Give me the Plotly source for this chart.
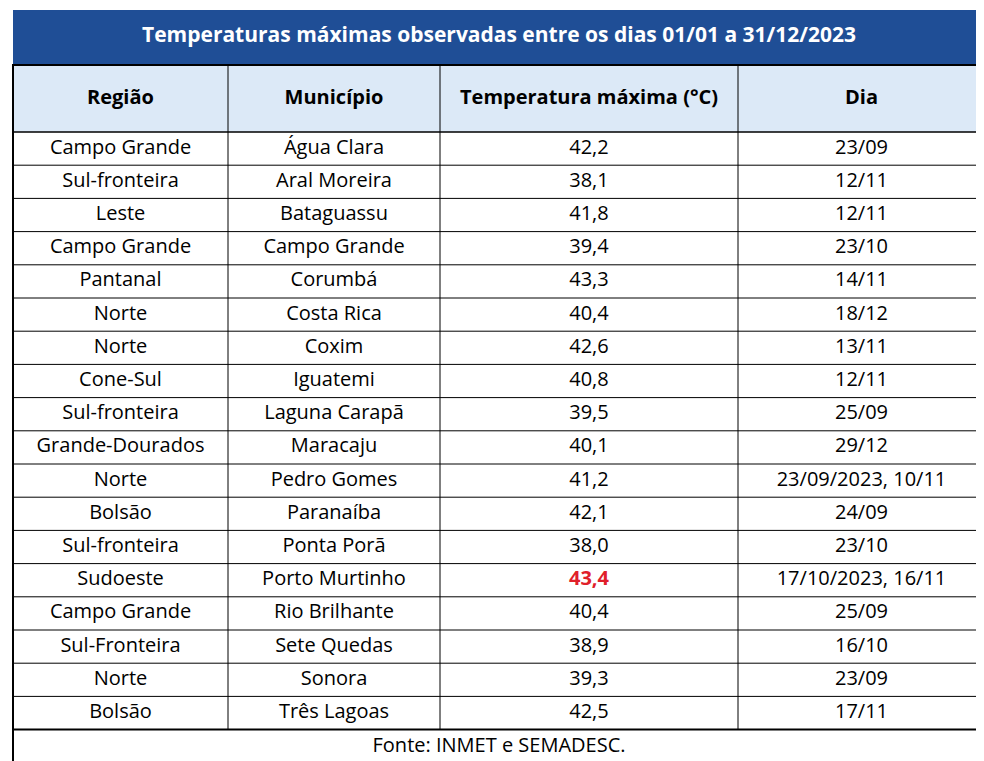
import plotly.graph_objects as go

regioes = ["Campo Grande","Sul-fronteira","Leste","Campo Grande","Pantanal","Norte","Norte","Cone-Sul",
           "Sul-fronteira","Grande-Dourados","Norte","Bolsão","Sul-fronteira","Sudoeste","Campo Grande",
           "Sul-Fronteira","Norte","Bolsão"]
municipios = ["Água Clara","Aral Moreira","Bataguassu","Campo Grande","Corumbá","Costa Rica","Coxim","Iguatemi",
              "Laguna Carapã","Maracaju","Pedro Gomes","Paranaíba","Ponta Porã","Porto Murtinho","Rio Brilhante",
              "Sete Quedas","Sonora","Três Lagoas"]
temps = [42.2,38.1,41.8,39.4,43.3,40.4,42.6,40.8,39.5,40.1,41.2,42.1,38.0,43.4,40.4,38.9,39.3,42.5]
dias = ["23/09","12/11","12/11","23/10","14/11","18/12","13/11","12/11","25/09","29/12","23/09/2023, 10/11",
        "24/09","23/10","17/10/2023, 16/11","25/09","16/10","23/09","17/11"]
headers = ["Região","Município","Temperatura máxima (°C)","Dia"]
title = "Temperaturas máximas observadas entre os dias 01/01 a 31/12/2023"
fonte = "Fonte: INMET e SEMADESC."

W, H = 984, 761
font = "Open Sans"
edges = [5, 220, 432, 730, 977]          # column boundaries (layout)
T0, T1 = 2, 56                           # title bar
H0, H1 = 57, 124                         # header row
RH = 33.2                                # data row height
n = len(temps)
D1 = H1 + RH * n
F1 = D1 + 34

tmax = max(temps)
temp_txt = [(f"<b>{t:.1f}</b>" if t == tmax else f"{t:.1f}").replace(".", ",") for t in temps]
temp_col = ["#e0202a" if t == tmax else "black" for t in temps]
centers = [(edges[i] + edges[i+1]) / 2 for i in range(4)]
row_y = [H1 + RH * (i + 0.5) for i in range(n)]

fig = go.Figure()
shapes = [
    dict(type="rect", x0=edges[0], x1=edges[-1], y0=T0, y1=T1, fillcolor="#1f4e96", line=dict(width=0), layer="below"),
    dict(type="rect", x0=edges[0], x1=edges[-1], y0=H0, y1=H1, fillcolor="#dce9f7", line=dict(color="black", width=1), layer="below"),
    dict(type="rect", x0=edges[0], x1=edges[-1], y0=H0, y1=F1, fillcolor="rgba(0,0,0,0)", line=dict(color="black", width=2)),
    dict(type="line", x0=edges[0], x1=edges[-1], y0=D1, y1=D1, line=dict(color="black", width=2)),
]
for e in edges[1:-1]:
    shapes.append(dict(type="line", x0=e, x1=e, y0=H0, y1=D1, line=dict(color="black", width=1)))
for i in range(n):
    y = H1 + RH * i
    shapes.append(dict(type="line", x0=edges[0], x1=edges[-1], y0=y, y1=y, line=dict(color="black", width=1)))

fig.add_trace(go.Scatter(x=centers, y=[(H0 + H1) / 2] * 4, mode="text",
                         text=[f"<b>{h}</b>" for h in headers],
                         textfont=dict(family=font, size=20, color="black"), hoverinfo="skip"))
for col, vals, colors in [(0, regioes, "black"), (1, municipios, "black"), (2, temp_txt, temp_col), (3, dias, "black")]:
    fig.add_trace(go.Scatter(x=[centers[col]] * n, y=row_y, mode="text", text=vals,
                             textfont=dict(family=font, size=20, color=colors), hoverinfo="skip"))
fig.add_trace(go.Scatter(x=[(edges[0] + edges[-1]) / 2], y=[(T0 + T1) / 2], mode="text",
                         text=[f"<b>{title}</b>"], textfont=dict(family=font, size=21, color="white"), hoverinfo="skip"))
fig.add_trace(go.Scatter(x=[(edges[0] + edges[-1]) / 2], y=[(D1 + F1) / 2], mode="text",
                         text=[fonte], textfont=dict(family=font, size=20, color="black"), hoverinfo="skip"))

fig.update_layout(width=W, height=H, margin=dict(l=0, r=0, t=0, b=0), paper_bgcolor="white",
                  plot_bgcolor="white", showlegend=False, shapes=shapes,
                  xaxis=dict(range=[0, W], visible=False, fixedrange=True),
                  yaxis=dict(range=[H, 0], visible=False, fixedrange=True))
fig.write_html("out.html")
